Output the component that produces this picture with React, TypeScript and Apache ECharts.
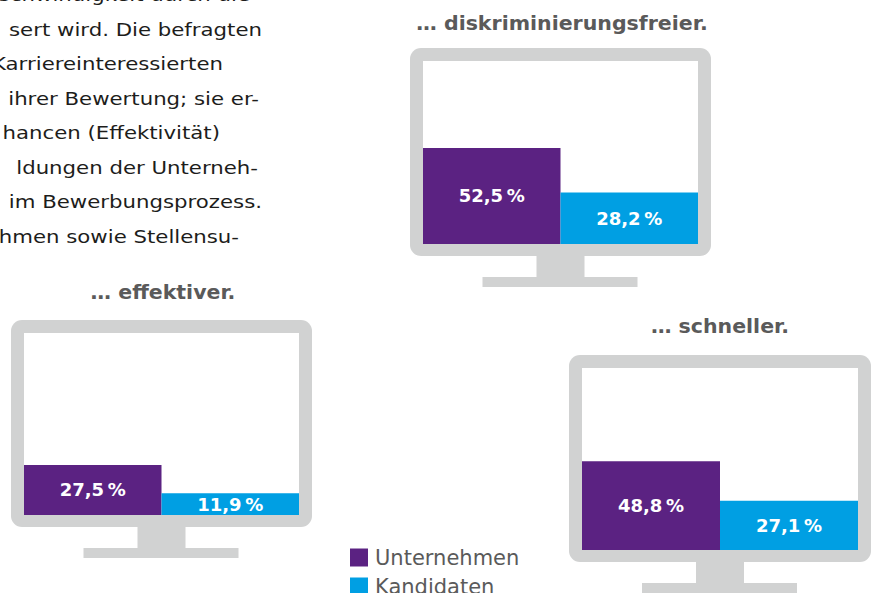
import React, { useEffect, useRef } from "react";
import * as echarts from "echarts";

// ---- data ----
const panelTitles = ["… diskriminierungsfreier.", "… effektiver.", "… schneller."];
const seriesNames = ["Unternehmen", "Kandidaten"];
const unternehmen = [52.5, 27.5, 48.8];
const kandidaten = [28.2, 11.9, 27.1];
const paragraphLines = [
  "Geschwindigkeit durch die",
  "sert wird. Die befragten",
  "Karriereinteressierten",
  "ihrer Bewertung; sie er-",
  "hancen (Effektivität)",
  "ldungen der Unterneh-",
  "im Bewerbungsprozess.",
  "hmen sowie Stellensu-",
];

// ---- layout ----
const screens = [
  { x: 423, y: 61, w: 275, h: 183 },
  { x: 24, y: 333, w: 275, h: 182 },
  { x: 582, y: 368, w: 276, h: 182 },
];
const titlePos = [
  { x: 562, y: 24 },
  { x: 163, y: 293 },
  { x: 720, y: 327 },
];
const paraRight = [250, 262, 223, 259, 220, 258, 262, 239];
const paraY0 = -5;
const paraStep = 34.5;

const PURPLE = "#5B2282";
const BLUE = "#009FE3";
const GRAY = "#D1D2D2";
const TEXTGRAY = "#5A5A5A";
const FONT = "DejaVu Sans";

export default function App() {
  const ref = useRef<HTMLDivElement>(null);
  useEffect(() => {
    document.body.style.margin = "0";
    if (!ref.current) return;
    const chart = echarts.init(ref.current, undefined, { renderer: "svg" });

    const graphic: any[] = [];
    screens.forEach((s, i) => {
      const b = 13;
      graphic.push({
        type: "rect",
        z: 0,
        shape: { x: s.x - b, y: s.y - b, width: s.w + 2 * b, height: s.h + 2 * b - 1, r: 11 },
        style: { fill: GRAY },
      });
      graphic.push({
        type: "rect",
        z: 1,
        shape: { x: s.x, y: s.y, width: s.w, height: s.h },
        style: { fill: "#ffffff" },
      });
      const cx = s.x + s.w / 2;
      const bottom = s.y + s.h + b - 1;
      graphic.push({
        type: "rect",
        z: 0,
        shape: { x: cx - 24, y: bottom, width: 48, height: 21 },
        style: { fill: GRAY },
      });
      graphic.push({
        type: "rect",
        z: 0,
        shape: { x: cx - 78, y: bottom + 21, width: 155, height: 10 },
        style: { fill: GRAY },
      });
      graphic.push({
        type: "text",
        z: 1,
        x: titlePos[i].x,
        y: titlePos[i].y,
        scaleX: 1.08,
        style: {
          text: panelTitles[i],
          fill: TEXTGRAY,
          font: "bold 19px " + FONT,
          align: "center",
          verticalAlign: "middle",
          textAlign: "center",
          textVerticalAlign: "middle",
        },
      });
    });
    paragraphLines.forEach((t, i) => {
      graphic.push({
        type: "text",
        z: 1,
        x: paraRight[i],
        y: paraY0 + i * paraStep,
        scaleX: 1.15,
        style: {
          text: t,
          fill: "#1d1d1b",
          font: "18.5px " + FONT,
          align: "right",
          verticalAlign: "middle",
          textAlign: "right",
          textVerticalAlign: "middle",
        },
      });
    });

    const fmt = (p: any) => p.value.toFixed(1).replace(".", ",") + "\u2009%";
    const series: any[] = [];
    screens.forEach((_, i) => {
      [unternehmen, kandidaten].forEach((arr, k) => {
        series.push({
          type: "bar",
          name: seriesNames[k],
          xAxisIndex: i,
          yAxisIndex: i,
          data: [arr[i]],
          barGap: "0%",
          barCategoryGap: "0%",
          z: 3,
          itemStyle: { color: k === 0 ? PURPLE : BLUE },
          label: {
            show: true,
            position: "inside",
            formatter: fmt,
            color: "#ffffff",
            fontFamily: FONT,
            fontWeight: "bold",
            fontSize: 18,
          },
        });
      });
    });

    const legendTops = [547, 576];
    chart.setOption({
      animation: false,
      graphic,
      legend: seriesNames.map((n, k) => ({
        data: [n],
        left: 350,
        top: legendTops[k],
        padding: 0,
        itemWidth: 18,
        itemHeight: 18,
        itemGap: 0,
        icon: "rect",
        textStyle: { color: TEXTGRAY, fontSize: 21, fontFamily: FONT, padding: [0, 0, 0, 2] },
        selectedMode: false,
      })),
      grid: screens.map((s) => ({ left: s.x, top: s.y, width: s.w, height: s.h })),
      xAxis: screens.map((_, i) => ({ type: "category", gridIndex: i, data: [""], show: false })),
      yAxis: screens.map((_, i) => ({ type: "value", gridIndex: i, min: 0, max: 100, show: false })),
      series,
    });
    return () => chart.dispose();
  }, []);
  return <div ref={ref} style={{ width: 875, height: 593 }} />;
}
